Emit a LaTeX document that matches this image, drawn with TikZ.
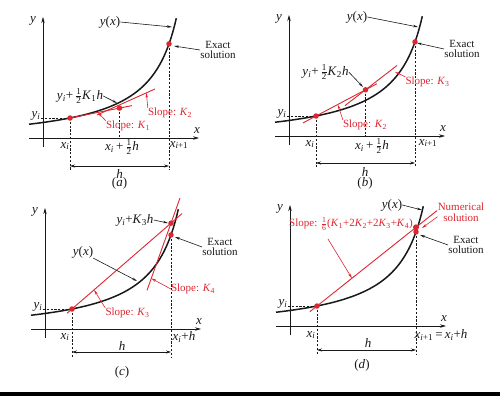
\documentclass[tikz,border=0pt]{standalone}
\usepackage{amsmath}
\usepackage{fontspec}
\setmainfont{Liberation Serif}
\usetikzlibrary{arrows.meta,calc}
\definecolor{rk}{RGB}{222,38,48}
\definecolor{ink}{RGB}{25,25,25}
\newcommand\vv[1]{\textit{#1}}
\newcommand\rsub[1]{\textsubscript{#1}}
\newcommand\rkfrac[2]{$\tfrac{\text{#1}}{\text{#2}}$}
\tikzset{
  axisln/.style={line width=0.7pt,draw=ink,-{Stealth[length=6pt,width=3.5pt]}},
  curveln/.style={line width=1.5pt,draw=ink},
  redln/.style={draw=rk,line width=0.9pt},
  dashln/.style={line width=0.5pt,draw=ink,dash pattern=on 2.2pt off 1.6pt},
  dimln/.style={line width=0.6pt,draw=ink,{Stealth[length=5pt,width=3pt]}-{Stealth[length=5pt,width=3pt]}},
  lead/.style={line width=0.6pt,draw=ink,-{Stealth[length=5pt,width=2.5pt]}},
  redlead/.style={lead,draw=rk},
  lbl/.style={font=\fontsize{13}{14}\selectfont,inner sep=0pt,text=ink},
  txt/.style={font=\fontsize{11}{10.5}\selectfont,inner sep=0pt,align=center,text=ink},
  redtxt/.style={txt,text=rk},
  dotr/.style={circle,fill=rk,inner sep=0pt,minimum size=5.5pt},
}
% common parts of a panel: #1 = dimension line level, #2 = end of dashed drops
\newcommand\rkbase[2]{%
  \draw[axisln] (0,9) -- (0,-121);%
  \draw[axisln] (-14,0) -- (156,0);%
  \node[lbl] (ylab) at (-10,-117) {\vv{y}};%
  \node[lbl] (xlab) at (154,-7) {\vv{x}};%
  \draw[curveln] plot[domain=-41:106.3,samples=90] ({27+\x},{6.9-3635/(135-\x)});%
  \coordinate (p0) at (27,-20);%
  \coordinate (pe) at (126,-94.07);%
  \coordinate (yax) at (-2,-20);%
  \coordinate (dl) at (27,#2);%
  \coordinate (dr) at (126,#2);%
  \coordinate (ml) at (27,#1);%
  \coordinate (mr) at (126,#1);%
  \node[lbl] (yi) at (-7,-22) {\vv{y}\rsub{\vv{i}}};%
  \draw[dashln] (yax) -- (p0);%
  \draw[dashln] (p0) -- (dl);%
  \draw[dashln] (pe) -- (dr);%
  \draw[dimln] (ml) -- (mr);%
}
\begin{document}
\begin{tikzpicture}[x=1pt,y=-1pt]
\path[use as bounding box,fill=white] (0,0) rectangle (500,396);
\fill[black] (0,392) rectangle (500,396);
% ---------------- (a)
\begin{scope}[shift={(43,138)},name prefix=a-]
  \rkbase{28}{32}
  \coordinate (k1b) at (89,-32.4);
  \coordinate (mid) at (76.5,-29.9);
  \coordinate (midx) at (76.5,0);
  \coordinate (k2a) at (54,-23);
  \coordinate (k2b) at (112,-49);
  \draw[redln] (p0) -- (k1b);
  \draw[redln] (k2a) -- (k2b);
  \draw[dashln] (mid) -- (midx);
  \node[dotr] (d0) at (p0) {};
  \node[dotr] (dm) at (mid) {};
  \node[dotr] (de) at (pe) {};
  \node[lbl] (yh) at (37,-42) {\vv{y}\rsub{\vv{i}}+\,\rkfrac{1}{2}\vv{K}\rsub{1}\vv{h}};
  \coordinate (yht) at (74,-35);
  \draw[lead] (yh.east) -- (yht);
  \node[redtxt] (sk1) at (85,-12) {Slope: \vv{K}\rsub{1}};
  \draw[redlead] (sk1.north west) -- ($(p0)!0.45!(k1b)$);
  \node[redtxt] (sk2) at (127,-25) {Slope: \vv{K}\rsub{2}};
  \draw[redlead] (sk2.north west) -- ($(k2a)!0.85!(k2b)$);
  \node[lbl] (yx) at (67,-116) {\vv{y}(\vv{x})};
  \coordinate (yxt) at (129,-111);
  \draw[lead] (yx.east) -- (yxt);
  \node[txt] (ex) at (175,-88) {Exact\\solution};
  \coordinate (ext) at (131,-92);
  \draw[lead] (ex.west) -- (ext);
  \node[lbl] (xi) at (22,8) {\vv{x}\rsub{\vv{i}}};
  \node[lbl] (xm) at (79,9) {\vv{x}\rsub{\vv{i}}\,+\,\rkfrac{1}{2}\vv{h}};
  \node[lbl] (xn) at (136,7) {\vv{x}\rsub{\vv{i}+1}};
  \node[lbl] (hh) at (76.5,36) {\vv{h}};
  \node[lbl] (cap) at (76.5,45) {(\vv{a})};
\end{scope}
% ---------------- (b)
\begin{scope}[shift={(289,136)},name prefix=b-]
  \rkbase{27}{31}
  \coordinate (k2a) at (14,-13.1);
  \coordinate (k2b) at (88,-52.3);
  \coordinate (mid) at (76.5,-46.2);
  \coordinate (midx) at (76.5,0);
  \coordinate (k3a) at (56,-30.4);
  \coordinate (k3b) at (108,-70.5);
  \draw[redln] (k2a) -- (k2b);
  \draw[redln] (k3a) -- (k3b);
  \draw[dashln] (mid) -- (midx);
  \node[dotr] (d0) at (p0) {};
  \node[dotr] (dm) at (mid) {};
  \node[dotr] (de) at (pe) {};
  \node[lbl] (yh) at (36.5,-64) {\vv{y}\rsub{\vv{i}}+\,\rkfrac{1}{2}\vv{K}\rsub{2}\vv{h}};
  \coordinate (yht) at (74,-49);
  \draw[lead] (yh.east) -- (yht);
  \node[redtxt] (sk3) at (138.5,-54) {Slope: \vv{K}\rsub{3}};
  \coordinate (sk3t) at (106,-64);
  \draw[redlead] (sk3.north west) -- (sk3t);
  \node[redtxt] (sk2) at (76,-11) {Slope: \vv{K}\rsub{2}};
  \draw[redlead] (sk2.north west) -- ($(k2a)!0.47!(k2b)$);
  \node[lbl] (yx) at (68,-119) {\vv{y}(\vv{x})};
  \coordinate (yxt) at (129,-109);
  \draw[lead] (yx.east) -- (yxt);
  \node[txt] (ex) at (173,-87) {Exact\\solution};
  \coordinate (ext) at (128,-93);
  \draw[lead] (ex.west) -- (ext);
  \node[lbl] (xi) at (21,8) {\vv{x}\rsub{\vv{i}}};
  \node[lbl] (xm) at (83,10) {\vv{x}\rsub{\vv{i}}\,+\,\rkfrac{1}{2}\vv{h}};
  \node[lbl] (xn) at (139,7) {\vv{x}\rsub{\vv{i}+1}};
  \node[lbl] (hh) at (76,36) {\vv{h}};
  \node[lbl] (cap) at (76,47) {(\vv{b})};
\end{scope}
% ---------------- (c)
\begin{scope}[shift={(45,329)},name prefix=c-]
  \rkbase{23}{28}
  \coordinate (k3a) at (22,-15.7);
  \coordinate (k3b) at (137,-115.4);
  \coordinate (pk) at (126,-105.8);
  \coordinate (k4a) at (102,-38.6);
  \coordinate (k4b) at (135,-131);
  \draw[redln] (k3a) -- (k3b);
  \draw[redln] (k4a) -- (k4b);
  \node[dotr] (d0) at (p0) {};
  \node[dotr] (de) at (pe) {};
  \node[dotr] (dk) at (pk) {};
  \node[lbl] (yk) at (90,-109) {\vv{y}\rsub{\vv{i}}+\vv{K}\rsub{3}\vv{h}};
  \coordinate (ykt) at (123,-106);
  \draw[lead] (yk.east) -- (ykt);
  \node[lbl] (yx) at (38,-77) {\vv{y}(\vv{x})};
  \coordinate (yxt) at (92,-48);
  \draw[lead] (yx.south east) -- (yxt);
  \node[redtxt] (sk3) at (82.5,-15.7) {Slope: \vv{K}\rsub{3}};
  \draw[redlead] (sk3.north west) -- ($(k3a)!0.235!(k3b)$);
  \node[redtxt] (sk4) at (148,-40) {Slope: \vv{K}\rsub{4}};
  \draw[redlead] (sk4.west) -- ($(k4a)!0.13!(k4b)$);
  \node[txt] (ex) at (175,-82) {Exact\\solution};
  \coordinate (ext) at (130,-92);
  \draw[lead] (ex.west) -- (ext);
  \node[lbl] (xi) at (20,8) {\vv{x}\rsub{\vv{i}}};
  \node[lbl] (xn) at (139,8) {\vv{x}\rsub{\vv{i}}+\vv{h}};
  \node[lbl] (hh) at (77,17) {\vv{h}};
  \node[lbl] (cap) at (77,43) {(\vv{c})};
\end{scope}
% ---------------- (d)
\begin{scope}[shift={(290,326)},name prefix=d-]
  \rkbase{24}{29}
  \coordinate (dla) at (20,-14.4);
  \coordinate (dlb) at (147,-115.4);
  \coordinate (pn) at (126,-98.7);
  \draw[redln] (dla) -- (dlb);
  \node[dotr] (d0) at (p0) {};
  \node[dotr] (de) at (pe) {};
  \node[dotr,minimum size=6pt] (dn) at (pn) {};
  \node[redtxt] (sl) at (61,-102) {Slope: \rkfrac{1}{6}(\vv{K}\rsub{1}+2\vv{K}\rsub{2}+2\vv{K}\rsub{3}+\vv{K}\rsub{4})};
  \coordinate (slt) at (38,-87);
  \draw[redlead] (slt) -- ($(dla)!0.33!(dlb)$);
  \node[redtxt] (num) at (171,-114) {Numerical\\solution};
  \coordinate (numt) at (132,-98);
  \draw[redlead] ($(num.west)!0.5!(num.south west)$) -- (numt);
  \node[txt] (ex) at (176,-81) {Exact\\solution};
  \coordinate (ext) at (130,-91);
  \draw[lead] (ex.west) -- (ext);
  \node[lbl] (yx) at (102,-121) {\vv{y}(\vv{x})};
  \coordinate (yxt) at (132,-116);
  \draw[lead] (yx.east) -- (yxt);
  \node[lbl] (xi) at (21,9) {\vv{x}\rsub{\vv{i}}};
  \node[lbl] (xn) at (151,9) {\vv{x}\rsub{\vv{i}+1}\,=\,\vv{x}\rsub{\vv{i}}+\vv{h}};
  \node[lbl] (hh) at (78,17) {\vv{h}};
  \node[lbl] (cap) at (72,39) {(\vv{d})};
\end{scope}
\end{tikzpicture}
\end{document}
